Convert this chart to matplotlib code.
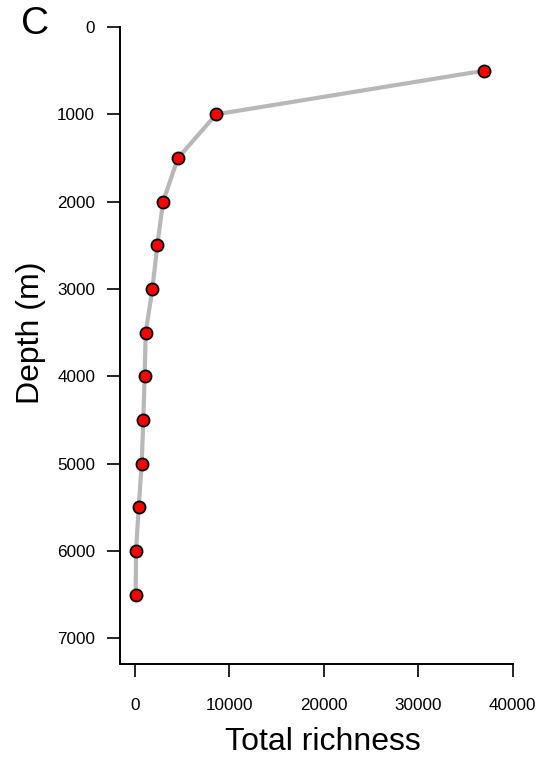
import numpy as np
import matplotlib.pyplot as plt

plt.rcParams['font.family'] = ['Liberation Sans', 'DejaVu Sans']

# depth (m) and total richness
depth = [500, 1000, 1500, 2000, 2500, 3000, 3500, 4000, 4500, 5000, 5500, 6000, 6500]
richness = [37000, 8600, 4550, 2970, 2360, 1840, 1130, 1020, 880, 710, 390, 110, 70]

xticks = [0, 10000, 20000, 30000, 40000]
yticks = [0, 1000, 2000, 3000, 4000, 5000, 6000, 7000]

fig = plt.figure(figsize=(5.4, 7.61), dpi=100)
ax = fig.add_axes([120/540, 1-664/761, 392.7/540, 637/761])

ax.plot(richness, depth, color='#b8b8b8', linewidth=3, zorder=1)
ax.plot(richness, depth, linestyle='none', marker='o', markersize=8.7,
        markerfacecolor='red', markeredgecolor='black', markeredgewidth=1.3, zorder=2)

ax.set_xlim(-1590, 40000)
ax.set_ylim(7295, 0)
ax.set_xticks(xticks)
ax.set_yticks(yticks)
ax.set_xticklabels([str(t) for t in xticks])
ax.set_yticklabels([str(t) for t in yticks])

for s in ['top', 'right']:
    ax.spines[s].set_visible(False)
for s in ['left', 'bottom']:
    ax.spines[s].set_linewidth(1.4)

ax.tick_params(axis='both', length=9.4, width=1.2, labelsize=12.3, direction='out')
ax.tick_params(axis='y', pad=8.5)
ax.tick_params(axis='x', pad=15)

ax.set_xlabel('Total richness', fontsize=23, va='center')
ax.xaxis.set_label_coords(0.517, -0.1225)
ax.set_ylabel('Depth (m)', fontsize=23, va='center')
ax.yaxis.set_label_coords(-0.226, 0.52)

fig.text(35/540, 1-24/761, 'C', fontsize=28, ha='center', va='center')

fig.savefig('out.png', dpi=100)
